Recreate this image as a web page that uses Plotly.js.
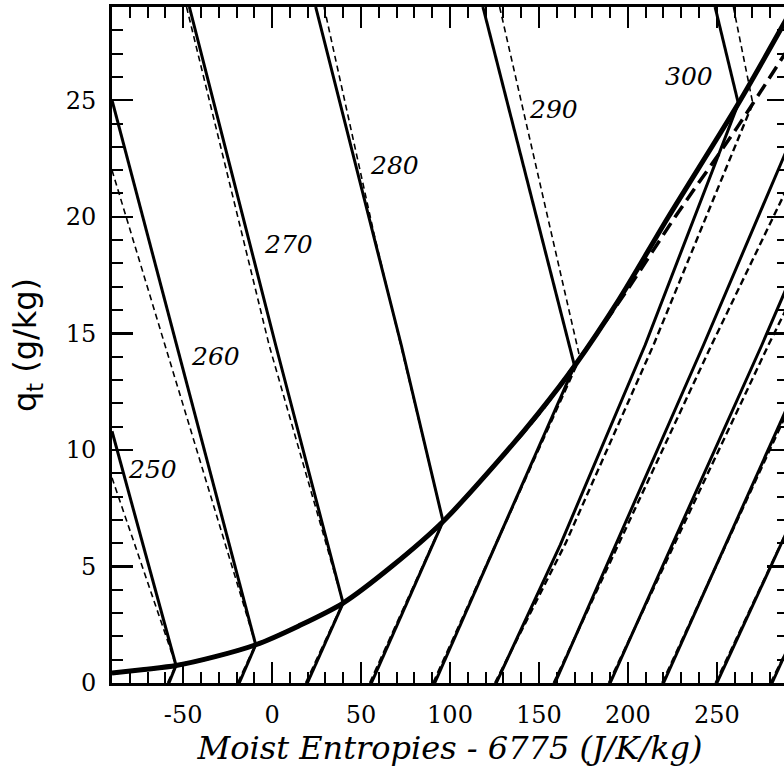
<!DOCTYPE html>
<html>
<head>
<meta charset="utf-8">
<script src="https://cdn.plot.ly/plotly-3.0.1.min.js"></script>
<style>
html,body{margin:0;padding:0;background:#fff;overflow:hidden;}
#chart{width:800px;height:769px;}
</style>
</head>
<body>
<div id="chart"></div>
<script>
// Saturation curve (solid) and its approximation (dashed)
const satX  = [-90, -72, -54, -32, -9.2, 15, 39.9, 68, 96.1, 128, 150, 170, 195, 222.8, 262.1, 290];
const satY  = [0.43, 0.58, 0.75, 1.13, 1.64, 2.45, 3.43, 5.05, 6.93, 9.6, 11.6, 13.6, 16.45, 20.0, 24.86, 28.6];
const satDX = [-90, -72, -54, -32, -9.2, 15, 39.9, 68, 96.1, 128, 150, 173, 200, 226.6, 262, 290];
const satDY = [0.43, 0.58, 0.75, 1.13, 1.64, 2.45, 3.43, 5.05, 6.93, 9.6, 11.55, 13.95, 16.9, 20.0, 23.9, 27.2];

// Isotherm labels (K)
const isoLabels = [250, 260, 270, 280, 290, 300];
const isoLabelX = [-67.2, -31.7, 9.0, 68.9, 158, 234.1];
const isoLabelY = [9.14, 14.0, 18.8, 22.2, 24.6, 26.0];

// Unsaturated isotherms (solid)
const isoX = [[-90, -54], [-90, -9.2], [-46.5, 2.0, 39.9], [24.5, 72.6, 96.1], [118.5, 170], [249, 262.1]];
const isoY = [[10.8, 0.75], [25.0, 1.64], [29, 14.5, 3.43], [29, 14.5, 6.93], [29, 13.6], [29, 24.86]];
// Unsaturated isotherms (dashed)
const isoDX = [[-90, -54], [-90, -9.2], [-48.1, -1.7, 39.9], [29.2, 57.5, 96.1], [127.9, 162, 173], [259.3, 270.2]];
const isoDY = [[8.8, 0.75], [22.0, 1.64], [29, 14.5, 3.43], [29, 19.2, 6.93], [29, 17.6, 13.95], [29, 24.87]];

// Saturated isotherms (solid)
const moistX = [[-58, -54], [-18.5, -9.2], [19.8, 39.9], [55.8, 96.1], [91.4, 170], [126, 162, 209.7, 262.1],
                [159, 242.5, 290], [190, 275.3, 290], [220, 290], [250, 290], [281, 290]];
const moistY = [[0, 0.75], [0, 1.64], [0, 3.43], [0, 6.93], [0, 13.6], [0, 5.93, 14.5, 24.86],
                [0, 14.5, 23.0], [0, 14.5, 17.1], [0, 11.9], [0, 6.6], [0, 1.5]];
// Saturated isotherms (dashed)
const moistDX = [[-58.6, -54], [-19.2, -9.2], [19.0, 39.9], [55.0, 96.1], [90.6, 173], [125.3, 165, 214.4, 270.2],
                 [158.3, 247, 290], [189.3, 279, 290], [219.3, 290], [249.3, 290], [280.3, 290]];
const moistDY = [[0, 0.75], [0, 1.64], [0, 3.43], [0, 6.93], [0, 13.95], [0, 6.0, 14.5, 24.87],
                 [0, 14.5, 21.3], [0, 14.5, 16.2], [0, 11.7], [0, 6.6], [0, 1.5]];

const xTicks = [-50, 0, 50, 100, 150, 200, 250];
const yTicks = [0, 5, 10, 15, 20, 25];

const traces = [];
function addLines(xs, ys, line) {
  for (let i = 0; i < xs.length; i++) {
    traces.push({x: xs[i], y: ys[i], mode: 'lines', type: 'scatter', hoverinfo: 'skip', line: line});
  }
}
addLines(isoDX, isoDY, {color: '#000', width: 1.6, dash: '6px,4px'});
addLines(isoX, isoY, {color: '#000', width: 3});
addLines(moistX, moistY, {color: '#000', width: 3});
addLines(moistDX, moistDY, {color: '#000', width: 2.4, dash: '7px,4px'});
traces.push({x: satX, y: satY, mode: 'lines', type: 'scatter', hoverinfo: 'skip', line: {color: '#000', width: 5, shape: 'spline', smoothing: 0.8}});
traces.push({x: satDX, y: satDY, mode: 'lines', type: 'scatter', hoverinfo: 'skip', line: {color: '#000', width: 3.5, dash: '14px,7px', shape: 'spline', smoothing: 0.8}});

const serif = 'DejaVu Serif';
const annotations = isoLabels.map((t, i) => ({
  x: isoLabelX[i], y: isoLabelY[i], xref: 'x', yref: 'y', text: String(t), showarrow: false,
  font: {family: serif, size: 25, style: 'italic', color: '#000'}
}));

const tickFont = {family: serif, size: 24, color: '#000'};

const layout = {
  width: 800, height: 769,
  margin: {l: 112, r: 12, t: 7, b: 86},
  paper_bgcolor: '#fff', plot_bgcolor: '#fff',
  showlegend: false,
  annotations: annotations,
  xaxis: {
    range: [-90, 290], tickvals: xTicks, ticktext: xTicks.map(String),
    ticks: 'inside', ticklen: 21, tickwidth: 2.5, tickcolor: '#000',
    minor: {dtick: 10, tick0: 0, ticks: 'inside', ticklen: 11, tickwidth: 2, tickcolor: '#000'},
    showline: true, linewidth: 3, linecolor: '#000', mirror: 'allticks',
    showgrid: false, zeroline: false, tickfont: tickFont, ticklabelstandoff: 8,
    title: {text: 'Moist Entropies - 6775 (J/K/kg)', font: {family: serif, style: 'italic', size: 32, color: '#000'}, standoff: 4}
  },
  yaxis: {
    range: [0, 29], tickvals: yTicks, ticktext: yTicks.map(String),
    ticks: 'inside', ticklen: 21, tickwidth: 2.5, tickcolor: '#000',
    minor: {dtick: 1, tick0: 0, ticks: 'inside', ticklen: 11, tickwidth: 2, tickcolor: '#000'},
    showline: true, linewidth: 3, linecolor: '#000', mirror: 'allticks',
    showgrid: false, zeroline: false, tickfont: tickFont, ticklabelstandoff: 8,
    title: {text: 'q<sub>t</sub> (g/kg)', font: {family: 'DejaVu Sans', size: 32, color: '#000'}, standoff: 20}
  }
};

Plotly.newPlot('chart', traces, layout, {staticPlot: true, displayModeBar: false});
</script>
</body>
</html>
